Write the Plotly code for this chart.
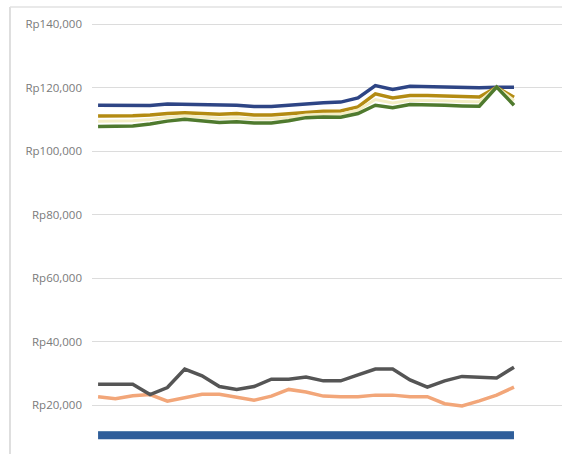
import plotly.graph_objects as go

# 25 periods (category axis, labels not visible in the reference)
periods = list(range(1, 26))

navy = [114500, 114500, 114400, 114400, 114900, 114800, 114500, 114400, 114500, 114100,
        114100, 114500, 115000, 115300, 115500, 116800, 120700, 119500, 120500, 120400,
        120200, 120100, 120000, 120200, 120200]
gold = [111100, 111100, 111200, 111400, 111900, 112100, 111900, 111700, 111900, 111400,
        111400, 111700, 112200, 112600, 112700, 114000, 118100, 116800, 117600, 117600,
        117400, 117200, 117100, 120200, 117000]
pale = [109500, 109500, 109600, 110000, 110700, 111100, 110700, 110400, 110600, 110200,
        110200, 110600, 111400, 111700, 111700, 113000, 116300, 115200, 116100, 116100,
        115900, 115700, 115600, 120200, 116000]
green = [107800, 107900, 108000, 108600, 109500, 110100, 109500, 109100, 109300, 108900,
         108900, 109600, 110600, 110800, 110700, 111900, 114500, 113700, 114700, 114700,
         114500, 114300, 114200, 120200, 114500]
orange = [22700, 22100, 23000, 23400, 21300, 22400, 23500, 23500, 22500, 21600,
          22900, 25000, 24200, 22900, 22700, 22700, 23200, 23200, 22700, 22700,
          20500, 19800, 21400, 23200, 25700]
grey = [26600, 26600, 26600, 23400, 25600, 31400, 29300, 25900, 25000, 25900,
        28200, 28200, 28900, 27700, 27700, 29600, 31400, 31400, 28000, 25700,
        27700, 29100, 28900, 28600, 32000]
teal = [11300] * 25
blue = [10600, 10650, 10650, 10700, 10700, 10650, 10650, 10650, 10600, 10600,
        10650, 10650, 10600, 10600, 10650, 10650, 10600, 10600, 10650, 10600,
        10600, 10550, 10550, 10600, 10600]

tick_vals = [20000, 40000, 60000, 80000, 100000, 120000, 140000]
tick_text = ["Rp20,000", "Rp40,000", "Rp60,000", "Rp80,000", "Rp100,000", "Rp120,000", "Rp140,000"]

series = [
    ("teal", teal, "#a9d6d6", 3),
    ("blue", blue, "#2f5e9a", 8),
    ("orange", orange, "#f2a679", 3.5),
    ("grey", grey, "#555555", 3.5),
    ("navy", navy, "#2e4585", 3.5),
    ("gold", gold, "#b38b12", 3.5),
    ("pale", pale, "#f4eec4", 3),
    ("green", green, "#4f7a2e", 3.5),
]

fig = go.Figure()
for name, vals, color, w in series:
    fig.add_trace(go.Scatter(x=list(range(len(periods))), y=vals, mode="lines",
                             name=name, line=dict(color=color, width=w),
                             showlegend=False, hoverinfo="skip"))

fig.update_layout(
    width=562, height=454,
    margin=dict(l=92, r=0, t=0, b=0),
    paper_bgcolor="white", plot_bgcolor="white",
    xaxis=dict(range=[-0.35, 26.77], visible=False, showgrid=False, zeroline=False),
    yaxis=dict(range=[4660, 147650], tickvals=tick_vals, ticktext=tick_text,
               showgrid=True, gridcolor="#dcdcdc", gridwidth=1, zeroline=False,
               showline=False, ticks="", ticklabelstandoff=9,
               tickfont=dict(family="Open Sans", size=11.5, color="#7a7a7a")),
    shapes=[
        dict(type="line", xref="paper", yref="paper", x0=-0.1745, x1=-0.1745, y0=0, y1=0.9846,
             line=dict(color="#d4d4d4", width=1.5)),
        dict(type="line", xref="paper", yref="paper", x0=-0.1745, x1=1.0, y0=0.9846, y1=0.9846,
             line=dict(color="#e2e2e2", width=1.5)),
    ],
)

fig.write_html("out.html")
